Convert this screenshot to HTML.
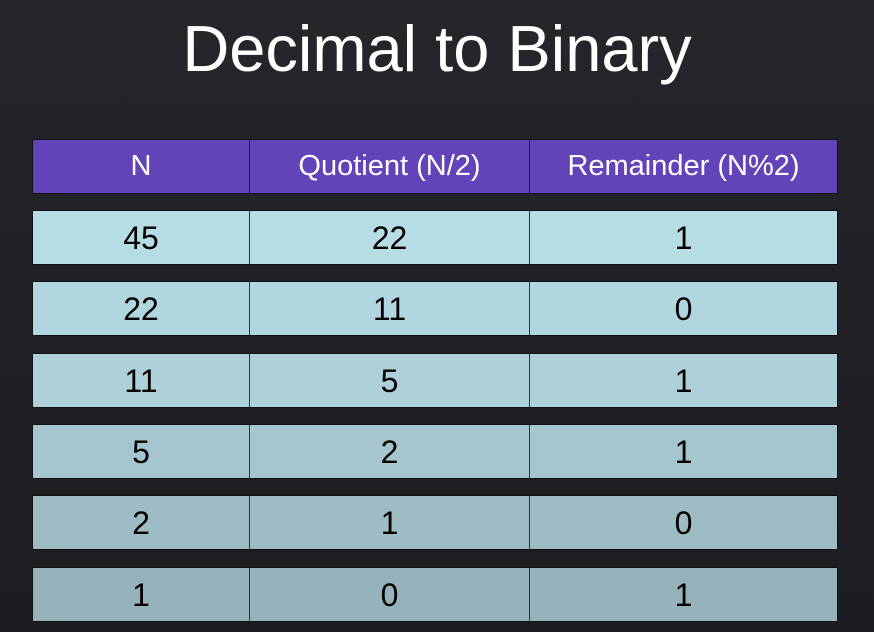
<!DOCTYPE html>
<html><head><meta charset="utf-8">
<style>
body{margin:0;width:874px;height:632px;overflow:hidden;background:linear-gradient(#24262b,#1b1d21);font-family:"Liberation Sans",sans-serif;position:relative}
#title{position:absolute;left:0;top:11px;width:874px;text-align:center;color:#fff;font-size:65px;line-height:76px}
.row{position:absolute;left:32px;width:804px;height:53px;border:1px solid #111;display:flex;box-sizing:content-box}
.row div{height:53px;line-height:55px;text-align:center;font-size:32px;color:#000;border-right:1px solid #333;box-sizing:border-box}
.row div:last-child{border-right:none}
.c1{width:217px}.c2{width:280px}.c3{width:307px}
.hdr{background:#6243b8}
.hdr div{color:#fff;font-size:29px;line-height:53px;border-right-color:#2a1a60}
</style></head><body>
<div id="title">Decimal to Binary</div>
<div id="table"></div>
<script>
const nValues=[45,22,11,5,2,1];
const quotients=[22,11,5,2,1,0];
const remainders=[1,0,1,1,0,1];
const headers=["N","Quotient (N/2)","Remainder (N%2)"];
const rowColors=["#b6dce4","#b2d6df","#aed0d9","#a6c6cf","#9dbcc4","#96b3bb"];
const t=document.getElementById('table');
function mk(top,cls,vals,bg,name){
  const r=document.createElement('div');
  r.className='row '+cls;r.style.top=top+'px';if(bg)r.style.background=bg;
  
  
  vals.forEach((v,i)=>{const c=document.createElement('div');c.className='c'+(i+1);c.textContent=v;
    
    
    r.appendChild(c);});
  t.appendChild(r);
}
mk(139,'hdr',headers,null,'header-row');
nValues.forEach((n,i)=>mk(210+i*71.3,'',[n,quotients[i],remainders[i]],rowColors[i],'row-'+n));
</script>
</body></html>
